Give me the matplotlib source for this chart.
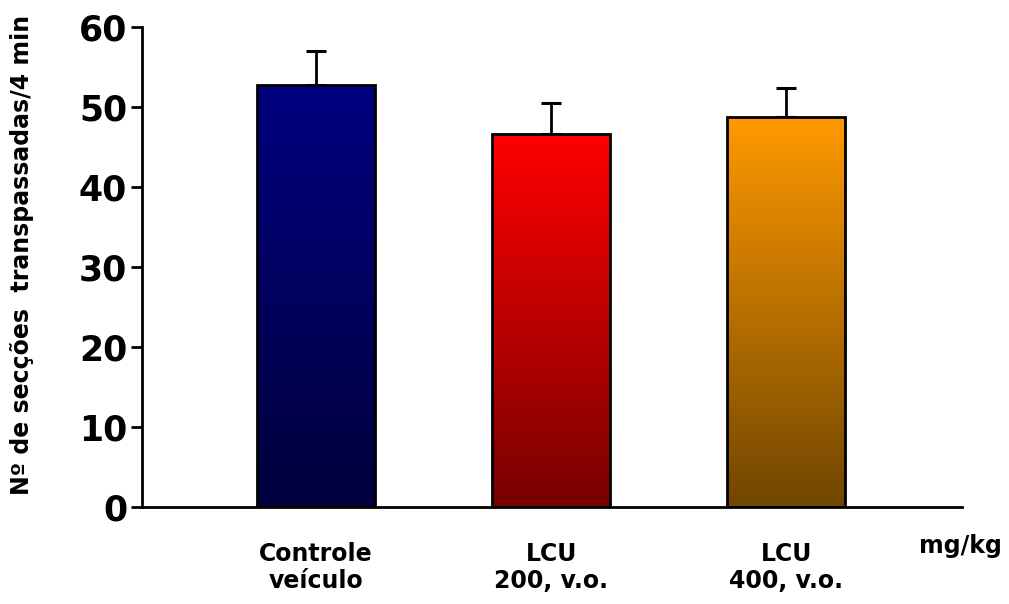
import matplotlib
matplotlib.use("Agg")
import matplotlib.pyplot as plt
import numpy as np
from matplotlib.colors import LinearSegmentedColormap

categories = ["Controle\nveículo", "LCU\n200, v.o.", "LCU\n400, v.o."]
means = [52.8, 46.7, 48.8]
errors = [4.2, 3.8, 3.55]
top_colors = ["#000080", "#FF0000", "#FF9900"]
bottom_colors = ["#00003C", "#780000", "#704600"]
yticks = [0, 10, 20, 30, 40, 50, 60]
ylabel = "Nº de secções  transpassadas/4 min"
unit_label = "mg/kg"

plt.rcParams['font.family'] = ['DejaVu Sans']
plt.rcParams['font.weight'] = 'bold'

fig = plt.figure(figsize=(10.09, 6.04), dpi=100)
ax = fig.add_axes([0.1404, 0.1614, 0.9531 - 0.1404, 0.9548 - 0.1614])

x = np.arange(1, len(categories) + 1)
bars = ax.bar(x, means, width=0.505, facecolor='none', edgecolor='black',
              linewidth=2.0, zorder=3)

grad = np.linspace(0, 1, 256).reshape(-1, 1)
for b, tc, bc in zip(bars, top_colors, bottom_colors):
    cmap = LinearSegmentedColormap.from_list("g", [bc, tc])
    x0, y0 = b.get_x(), b.get_y()
    w, h = b.get_width(), b.get_height()
    im = ax.imshow(grad, cmap=cmap, aspect='auto', origin='lower',
                   extent=[x0, x0 + w, y0, y0 + h], zorder=2)
    im.set_clip_path(b)

ax.errorbar(x, means, yerr=[np.zeros(len(errors)), errors], fmt='none',
            ecolor='black', elinewidth=2.0, capsize=7.2, capthick=2.2, zorder=1)

ax.set_xlim(0.258, 3.747)
ax.set_ylim(0, 60)
ax.set_yticks(yticks)
ax.set_yticklabels([str(t) for t in yticks], fontsize=25, fontweight='bold')
ax.set_xticks([])
ax.spines['top'].set_visible(False)
ax.spines['right'].set_visible(False)
ax.spines['left'].set_linewidth(2.0)
ax.spines['bottom'].set_linewidth(2.0)
ax.tick_params(axis='y', direction='out', length=8, width=2.0, pad=2.5)

for xi, lab in zip(x, categories):
    ax.text(xi, -4.4, lab, ha='center', va='top', fontsize=17,
            fontweight='bold', linespacing=1.2)
ax.text(3.74, -3.5, unit_label, ha='center', va='top', fontsize=17,
        fontweight='bold', clip_on=False)

fig.text(22 / 1009, 1 - 255 / 604, ylabel, rotation=90, ha='center',
         va='center', fontsize=17, fontweight='bold')

fig.savefig("out.png", dpi=100)
